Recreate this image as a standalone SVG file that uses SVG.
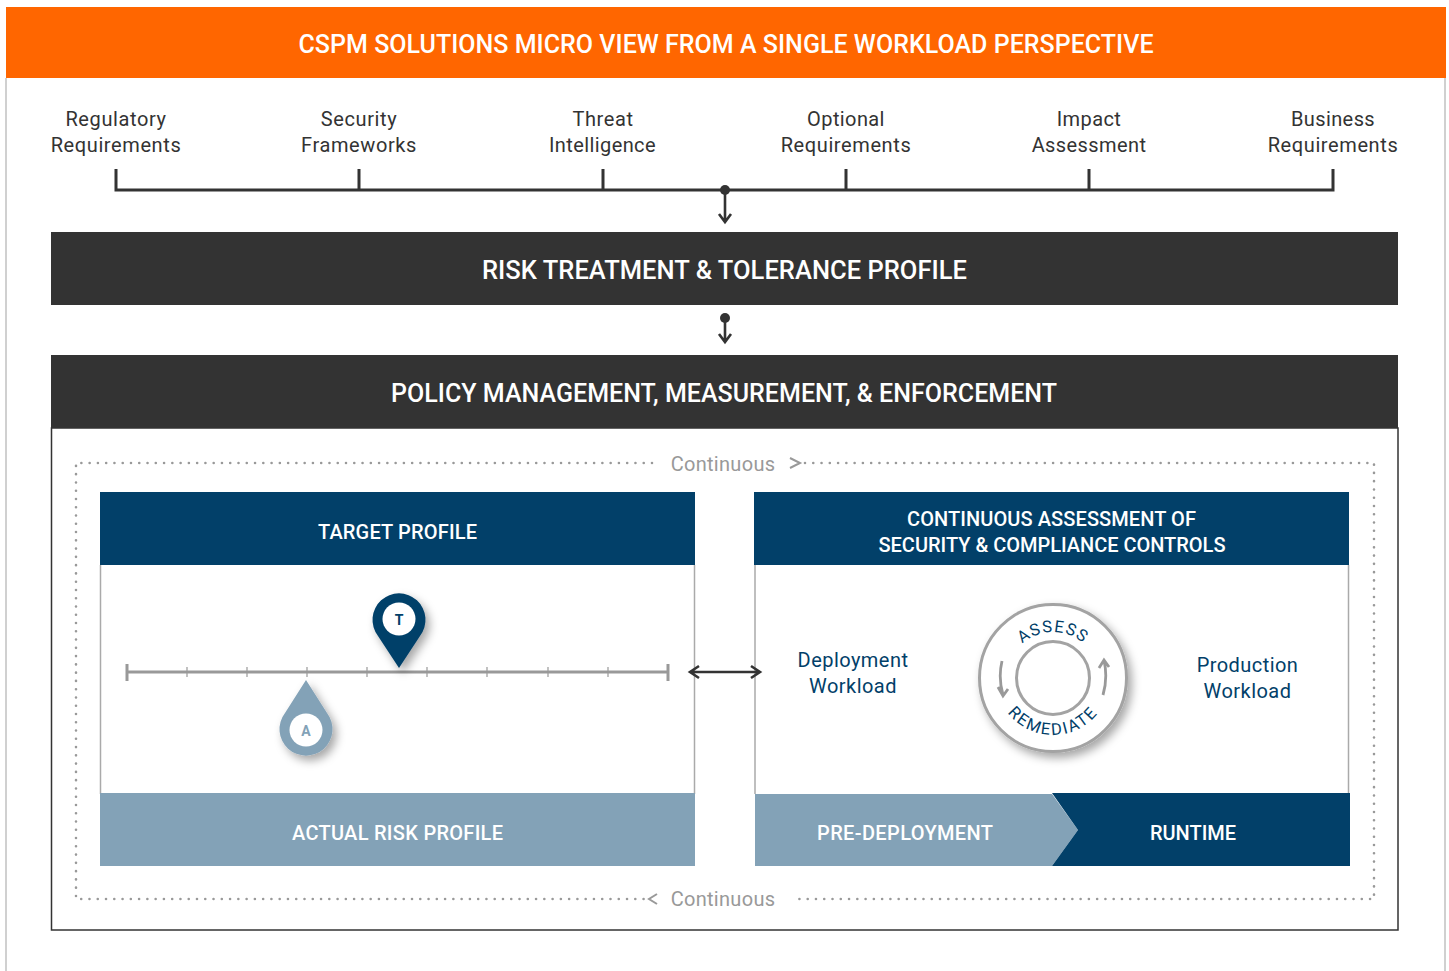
<svg xmlns="http://www.w3.org/2000/svg" width="1449" height="971" viewBox="0 0 1449 971">
<style>
text{font-family:"Roboto","Liberation Sans",sans-serif;text-anchor:middle}
.h{fill:#fff;font-weight:500}
.r{fill:#333;font-size:20px;letter-spacing:.6px}
.b{fill:#024069;font-size:20px;letter-spacing:.45px}
.c{fill:#999;font-size:20px;letter-spacing:.3px}
.ring{fill:#024069;font-size:16.500px;letter-spacing:1.300px}
.dk{stroke:#333;stroke-width:3;fill:none}
.dot{stroke:#999;stroke-width:2.600;stroke-linecap:round;stroke-dasharray:0 8.270;fill:none}
.tick{stroke:#999;stroke-width:1.200}
.ah{stroke:#333;stroke-width:2.600;fill:none}
.gy{stroke:#999;stroke-width:2.800;fill:none}
</style>
<defs>
<filter id="sh" x="-40%" y="-40%" width="200%" height="200%"><feDropShadow dx="4" dy="5" stdDeviation="5" flood-color="#000" flood-opacity=".35"/></filter>
<path id="topArc" d="M1007 678A46 46 0 0 1 1099 678"/>
<path id="botArc" d="M996 678A57 57 0 0 0 1110 678"/>
</defs>
<rect width="1449" height="971" fill="#fff"/>
<g id="page-frame"><path d="M6 78V971M1445 78V971" stroke="#d0d0d0" stroke-width="2" fill="none"/></g>
<g id="title-bar"><rect x="6" y="7" width="1440" height="71" fill="#f60"/><text class="h" x="726" y="53" font-size="25" textLength="855">CSPM SOLUTIONS MICRO VIEW FROM A SINGLE WORKLOAD PERSPECTIVE</text></g>
<g id="input-regulatory"><text class="r" x="116" y="126">Regulatory</text><text class="r" x="116" y="152">Requirements</text></g>
<g id="input-security"><text class="r" x="359" y="126">Security</text><text class="r" x="359" y="152">Frameworks</text></g>
<g id="input-threat"><text class="r" x="603" y="126">Threat</text><text class="r" x="602.500" y="152" style="letter-spacing:.4px">Intelligence</text></g>
<g id="input-optional"><text class="r" x="846" y="126" style="letter-spacing:.4px">Optional</text><text class="r" x="846" y="152">Requirements</text></g>
<g id="input-impact"><text class="r" x="1089" y="126" style="letter-spacing:.4px">Impact</text><text class="r" x="1089" y="152" style="letter-spacing:.4px">Assessment</text></g>
<g id="input-business"><text class="r" x="1333" y="126" style="letter-spacing:.4px">Business</text><text class="r" x="1333" y="152">Requirements</text></g>
<g id="risk-treatment"><rect x="51" y="232" width="1347" height="73" fill="#333"/><text class="h" x="724.500" y="279" font-size="25.500" textLength="485">RISK TREATMENT &amp; TOLERANCE PROFILE</text></g>
<g id="policy"><rect x="51.500" y="428" width="1346.500" height="502" fill="#fff" stroke="#333" stroke-width="1.500"/><rect x="51" y="355" width="1347" height="73" fill="#333"/><text class="h" x="724" y="402" font-size="25" textLength="666">POLICY MANAGEMENT, MEASUREMENT, &amp; ENFORCEMENT</text></g>
<g id="continuous-loop">
<path class="dot" d="M652 463H76V899H644"/><path class="dot" d="M805 463H1374V899H797"/>
<text class="c" x="723" y="471">Continuous</text><text class="c" x="723" y="906">Continuous</text>
<path d="M790 458L800 463L790 468M657 894L649 899L657 904" stroke="#999" stroke-width="2" fill="none"/>
</g>
<g id="target-profile">
<path d="M100.500 565V794M694.500 565V794" stroke="#aaa" stroke-width="1.500"/>
<rect x="100" y="492" width="595" height="73" fill="#024069"/><text class="h" x="397.500" y="539" font-size="20" textLength="159">TARGET PROFILE</text>
</g>
<g id="scale">
<path d="M126 672H669" stroke="#999" stroke-width="3"/><path d="M127 664V681M668 664V681" stroke="#999" stroke-width="3"/>
<path class="tick" d="M187 667V677M247 667V677M307 667V677M367 667V677M427 667V677M487 667V677M548 667V677M608 667V677"/>
</g>
<g id="pin-target"><path filter="url(#sh)" d="M399 668L378 636A26.500 26.500 0 1 1 420 636Z" fill="#024069"/><circle cx="399" cy="619" r="16.500" fill="#fff"/><text x="399" y="624.500" font-size="14" font-weight="700" fill="#024069">T</text></g>
<g id="pin-actual"><path filter="url(#sh)" d="M306 680L285 713A26.500 26.500 0 1 0 327 713Z" fill="#83a2b7"/><circle cx="306" cy="730" r="16.500" fill="#fff"/><text x="306" y="735.500" font-size="14" font-weight="700" fill="#83a2b7">A</text></g>
<g id="actual-risk"><rect x="100" y="793" width="595" height="73" fill="#83a2b7"/><text class="h" x="397.500" y="840" font-size="20" textLength="211">ACTUAL RISK PROFILE</text></g>
<g id="assessment">
<path d="M755 565V794M1348.500 565V794" stroke="#aaa" stroke-width="1.500"/>
<rect x="754" y="492" width="595" height="73" fill="#024069"/><text class="h" x="1051.500" y="526" font-size="20" textLength="289">CONTINUOUS ASSESSMENT OF</text><text class="h" x="1052" y="552" font-size="20" textLength="347">SECURITY &amp; COMPLIANCE CONTROLS</text>
</g>
<g id="deployment"><text class="b" x="853" y="667">Deployment</text><text class="b" x="853" y="693">Workload</text></g>
<g id="production"><text class="b" x="1247.500" y="672">Production</text><text class="b" x="1247.500" y="698">Workload</text></g>
<g id="ring">
<circle cx="1053" cy="678" r="73.500" fill="#fff" stroke="#a3a3a3" stroke-width="3" filter="url(#sh)"/>
<circle cx="1053" cy="678" r="36.500" fill="#fff" stroke="#a3a3a3" stroke-width="3"/>
<text class="ring"><textPath href="#topArc" startOffset="50%">ASSESS</textPath></text>
<text class="ring" style="letter-spacing:1.900px"><textPath href="#botArc" startOffset="50%">REMEDIATE</textPath></text>
<path class="gy" d="M1002 661Q998 678 1003 695M998 687L1003 696L1008 689M1103 695Q1108 678 1104 660M1099 668L1104 660L1109 667"/>
</g>
<g id="pre-deployment"><path d="M755 794H1052L1078 830L1052 866H755Z" fill="#83a2b7"/><text class="h" x="905" y="840" font-size="20" textLength="176">PRE-DEPLOYMENT</text></g>
<g id="runtime"><path d="M1052 793H1350V866H1052L1078 830Z" fill="#024069"/><text class="h" x="1193" y="840" font-size="20">RUNTIME</text></g>
<g id="connectors">
<path class="dk" d="M116 169V190H1333V169M359 169V190M603 169V190M846 169V190M1089 169V190"/>
<circle cx="725" cy="190" r="5" fill="#333"/><path class="ah" d="M725 190V222M719 214L725 222L731 214"/>
<circle cx="725" cy="318" r="5" fill="#333"/><path class="ah" d="M725 318V342M719 334L725 342L731 334"/>
<path class="ah" d="M691 672H759M699 666L690 672L699 678M751 666L760 672L751 678"/>
</g>
</svg>
